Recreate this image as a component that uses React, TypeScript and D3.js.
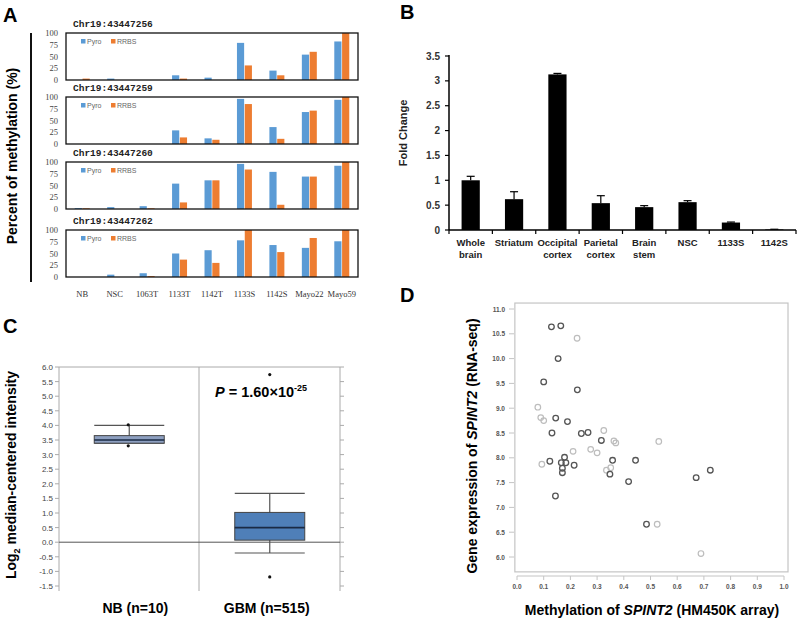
import React from "react";
import * as d3 from "d3";

const W = 800;
const H = 621;
const SANS = "'Liberation Sans', Arial, sans-serif";
const SERIF = "'Liberation Serif', 'Times New Roman', serif";
const MONO = "'Liberation Mono', 'Courier New', monospace";

// ---- panel A: methylation by site ----
const A_CATS = ["NB", "NSC", "1063T", "1133T", "1142T", "1133S", "1142S", "Mayo22", "Mayo59"];
const A_SITES = ["Chr19:43447256", "Chr19:43447259", "Chr19:43447260", "Chr19:43447262"];
const PYRO_256 = [0, 3, 0, 10, 5, 79, 20, 54, 82];
const RRBS_256 = [3, 0, 0, 3, 0, 31, 10, 60, 100];
const PYRO_259 = [0, 0, 0, 29, 12, 96, 36, 68, 94];
const RRBS_259 = [0, 0, 0, 14, 9, 85, 11, 71, 100];
const PYRO_260 = [2, 4, 6, 54, 61, 96, 79, 69, 92];
const RRBS_260 = [1.5, 0, 1.5, 14, 61, 84, 9, 69, 100];
const PYRO_262 = [0, 5, 8, 50, 57, 78, 68, 62, 76];
const RRBS_262 = [0, 0, 2, 37, 30, 100, 53, 83, 100];
const A_PYRO = [PYRO_256, PYRO_259, PYRO_260, PYRO_262];
const A_RRBS = [RRBS_256, RRBS_259, RRBS_260, RRBS_262];
const A_TICKS = [0, 25, 50, 75, 100];
const A_SERIES = ["Pyro", "RRBS"];
const A_COLORS = ["#5b9bd5", "#ed7d31"];

// ---- panel B: fold change ----
const B_CATS = ["Whole brain", "Striatum", "Occipital cortex", "Parietal cortex", "Brain stem", "NSC", "1133S", "1142S"];
const B_VALUES = [1.0, 0.62, 3.13, 0.54, 0.46, 0.56, 0.15, 0.01];
const B_ERR = [0.08, 0.15, 0.02, 0.15, 0.03, 0.03, 0.01, 0.005];
const B_TICKS = [0, 0.5, 1, 1.5, 2, 2.5, 3, 3.5];

// ---- panel C: box plot ----
const C_GROUPS = ["NB (n=10)", "GBM (n=515)"];
const C_Q1 = [3.39, 0.07];
const C_MED = [3.5, 0.5];
const C_Q3 = [3.65, 1.02];
const C_LO = [3.39, -0.37];
const C_HI = [4.0, 1.67];
const C_OUT = [[4.02, 3.3], [5.74, -1.19]];
const C_TICKS = [-1.5, -1, -0.5, 0, 0.5, 1, 1.5, 2, 2.5, 3, 3.5, 4, 4.5, 5, 5.5, 6];

// ---- panel D: scatter ----
const D_DARK_X = [0.129, 0.164, 0.154, 0.1, 0.226, 0.145, 0.189, 0.131, 0.241, 0.266, 0.316, 0.178, 0.123, 0.166, 0.183, 0.17, 0.17, 0.214, 0.358, 0.444, 0.348, 0.418, 0.144, 0.671, 0.724, 0.485];
const D_DARK_Y = [10.64, 10.66, 10.0, 9.53, 9.37, 8.8, 8.73, 8.5, 8.49, 8.51, 8.35, 8.01, 7.93, 7.9, 7.9, 7.79, 7.7, 7.85, 7.95, 7.95, 7.67, 7.52, 7.23, 7.6, 7.75, 6.66];
const D_LIGHT_X = [0.225, 0.078, 0.089, 0.1, 0.325, 0.363, 0.37, 0.531, 0.21, 0.276, 0.3, 0.093, 0.335, 0.351, 0.525, 0.689];
const D_LIGHT_Y = [10.41, 9.02, 8.81, 8.75, 8.55, 8.34, 8.3, 8.33, 8.13, 8.17, 8.1, 7.87, 7.75, 7.8, 6.66, 6.07];
const D_XTICKS = [0, 0.1, 0.2, 0.3, 0.4, 0.5, 0.6, 0.7, 0.8, 0.9, 1.0];
const D_YTICKS = [6, 6.5, 7, 7.5, 8, 8.5, 9, 9.5, 10, 10.5, 11];

const PanelA = () => {
  const x0 = d3.scaleBand().domain(A_CATS).range([66, 358]).paddingInner(0.5).paddingOuter(0.25);
  const x1 = d3.scaleBand().domain(A_SERIES).range([0, x0.bandwidth()]).padding(0.08);
  const tops = [33, 97, 162, 230];
  const h = 47;
  return (
    <g>
      <text x={3} y={22} fontFamily={SANS} fontWeight="bold" fontSize={20}>A</text>
      <line x1={31} x2={31} y1={33} y2={282} stroke="#111" strokeWidth={2} />
      <text transform="translate(17,156) rotate(-90)" textAnchor="middle" fontFamily={SANS} fontWeight="bold" fontSize={14}>
        Percent of methylation (%)
      </text>
      {A_SITES.map((site, i) => {
        const y = d3.scaleLinear().domain([0, 100]).range([tops[i] + h, tops[i]]);
        const rows = [A_PYRO[i], A_RRBS[i]];
        return (
          <g key={site}>
            <text x={73} y={tops[i] - 6} fontFamily={MONO} fontWeight="bold" fontSize={9.5} fill="#222">{site}</text>
            {A_TICKS.map((t) => (
              <text key={t} x={58} y={y(t) + 3} textAnchor="end" fontFamily={SERIF} fontSize={8.5} fill="#444">{t}</text>
            ))}
            {A_CATS.map((c, j) =>
              rows.map((vals, k) => (
                <rect key={c + k} x={(x0(c) as number) + (x1(A_SERIES[k]) as number)} width={x1.bandwidth()}
                  y={y(vals[j])} height={y(0) - y(vals[j])} fill={A_COLORS[k]} />
              ))
            )}
            <rect x={66} y={tops[i]} width={292} height={h} fill="none" stroke="#111" strokeWidth={1.3} />
            {A_SERIES.map((s, k) => (
              <g key={s}>
                <rect x={81 + k * 30} y={tops[i] + 6} width={4.5} height={4.5} fill={A_COLORS[k]} />
                <text x={87 + k * 30} y={tops[i] + 11} fontFamily={SANS} fontSize={7} fill="#666">{s}</text>
              </g>
            ))}
          </g>
        );
      })}
      {A_CATS.map((c) => (
        <text key={c} x={(x0(c) as number) + x0.bandwidth() / 2} y={297} textAnchor="middle" fontFamily={SERIF} fontSize={8.5} fill="#333">{c}</text>
      ))}
    </g>
  );
};

const PanelB = () => {
  const x = d3.scaleBand().domain(B_CATS).range([449, 796]).paddingInner(0.58).paddingOuter(0.29);
  const y = d3.scaleLinear().domain([0, 3.5]).range([230, 56]);
  const step = x.step();
  return (
    <g>
      <text x={400} y={19} fontFamily={SANS} fontWeight="bold" fontSize={20}>B</text>
      <text transform="translate(407,133) rotate(-90)" textAnchor="middle" fontFamily={SANS} fontWeight="bold" fontSize={11} fill="#222">Fold Change</text>
      {B_CATS.map((c, i) => {
        const cx = (x(c) as number) + x.bandwidth() / 2;
        return (
          <g key={c}>
            <rect x={x(c)} width={x.bandwidth()} y={y(B_VALUES[i])} height={y(0) - y(B_VALUES[i])} fill="#000" />
            <line x1={cx} x2={cx} y1={y(B_VALUES[i])} y2={y(B_VALUES[i] + B_ERR[i])} stroke="#000" strokeWidth={1.2} />
            <line x1={cx - 4} x2={cx + 4} y1={y(B_VALUES[i] + B_ERR[i])} y2={y(B_VALUES[i] + B_ERR[i])} stroke="#000" strokeWidth={1.2} />
            <text textAnchor="middle" fontFamily={SANS} fontWeight="bold" fontSize={9.5} fill="#222">
              {c.split(" ").map((w, k) => (
                <tspan key={k} x={cx} y={246 + k * 12}>{w}</tspan>
              ))}
            </text>
          </g>
        );
      })}
      {d3.range(B_CATS.length + 1).map((k) => (
        <line key={k} x1={449 + k * step} x2={449 + k * step} y1={230} y2={234} stroke="#000" strokeWidth={1.2} />
      ))}
      {B_TICKS.map((t) => (
        <g key={t}>
          <line x1={445} x2={449} y1={y(t)} y2={y(t)} stroke="#000" strokeWidth={1.2} />
          <text x={440} y={y(t) + 3.5} textAnchor="end" fontFamily={SANS} fontWeight="bold" fontSize={10} fill="#333">{t}</text>
        </g>
      ))}
      <line x1={449} x2={449} y1={55} y2={230} stroke="#000" strokeWidth={1.5} />
      <line x1={449} x2={796} y1={230} y2={230} stroke="#000" strokeWidth={1.5} />
    </g>
  );
};

const PanelC = () => {
  const x = d3.scaleBand().domain(C_GROUPS).range([59, 340]);
  const y = d3.scaleLinear().domain([-1.5, 6]).range([586, 367]);
  const bw = 70;
  return (
    <g>
      <text x={3} y={333} fontFamily={SANS} fontWeight="bold" fontSize={20}>C</text>
      <text transform="translate(16,475) rotate(-90)" textAnchor="middle" fontFamily={SANS} fontWeight="bold" fontSize={14}>
        Log<tspan fontSize={9} dy={4}>2</tspan><tspan dy={-4}> median-centered intensity</tspan>
      </text>
      <line x1={59} x2={340} y1={y(6)} y2={y(6)} stroke="#aaa" />
      <line x1={59} x2={59} y1={y(6)} y2={591} stroke="#aaa" />
      <line x1={199} x2={199} y1={y(6)} y2={591} stroke="#aaa" />
      <line x1={340} x2={340} y1={y(6)} y2={591} stroke="#aaa" />
      {C_TICKS.map((t) => (
        <g key={t}>
          <line x1={55} x2={59} y1={y(t)} y2={y(t)} stroke="#aaa" />
          <line x1={340} x2={344} y1={y(t)} y2={y(t)} stroke="#aaa" />
          <text x={53} y={y(t) + 3} textAnchor="end" fontFamily={SANS} fontSize={8} fill="#444">{t.toFixed(1)}</text>
        </g>
      ))}
      <line x1={59} x2={340} y1={y(0)} y2={y(0)} stroke="#555" />
      {C_GROUPS.map((g, i) => {
        const cx = (x(g) as number) + x.bandwidth() / 2;
        const fill = i === 0 ? "#8d9fc0" : "#4f7fb8";
        return (
          <g key={g}>
            <line x1={cx} x2={cx} y1={y(C_HI[i])} y2={y(C_LO[i])} stroke="#555" strokeWidth={1.2} />
            <line x1={cx - bw / 2} x2={cx + bw / 2} y1={y(C_HI[i])} y2={y(C_HI[i])} stroke="#555" strokeWidth={1.2} />
            <line x1={cx - bw / 2} x2={cx + bw / 2} y1={y(C_LO[i])} y2={y(C_LO[i])} stroke="#555" strokeWidth={1.2} />
            <rect x={cx - bw / 2} width={bw} y={y(C_Q3[i])} height={y(C_Q1[i]) - y(C_Q3[i])} fill={fill} stroke="#444" strokeWidth={1} />
            <line x1={cx - bw / 2} x2={cx + bw / 2} y1={y(C_MED[i])} y2={y(C_MED[i])} stroke="#1a2a44" strokeWidth={1.6} />
            {C_OUT[i].map((v, k) => (
              <circle key={k} cx={cx - (i === 0 ? 1 : 0)} cy={y(v)} r={1.6} fill="#111" />
            ))}
            <text x={cx + (i === 0 ? 6 : -3)} y={613} textAnchor="middle" fontFamily={SANS} fontWeight="bold" fontSize={14}>{g}</text>
          </g>
        );
      })}
      <text x={215} y={397} fontFamily={SANS} fontWeight="bold" fontSize={14.5}>
        <tspan fontStyle="italic">P</tspan> = 1.60×10<tspan fontSize={9} dy={-6}>-25</tspan>
      </text>
    </g>
  );
};

const PanelD = () => {
  const x = d3.scaleLinear().domain([0, 1]).range([517, 784]);
  const y = d3.scaleLinear().domain([6, 11]).range([557, 309]);
  return (
    <g>
      <text x={400} y={302} fontFamily={SANS} fontWeight="bold" fontSize={20}>D</text>
      <rect x={x(-0.008)} y={y(11.12)} width={x(1.015) - x(-0.008)} height={y(5.7) - y(11.12)} fill="none" stroke="#c4c4c4" strokeWidth={1.2} />
      <line x1={x(0)} x2={x(1)} y1={576} y2={576} stroke="#c4c4c4" />
      {D_XTICKS.map((t) => (
        <g key={t}>
          <line x1={x(t)} x2={x(t)} y1={576} y2={580} stroke="#c4c4c4" />
          <text x={x(t)} y={589} textAnchor="middle" fontFamily={SANS} fontWeight="bold" fontSize={6.5} fill="#555">{t.toFixed(1)}</text>
        </g>
      ))}
      {D_YTICKS.map((t) => (
        <g key={t}>
          <line x1={509} x2={514} y1={y(t)} y2={y(t)} stroke="#c4c4c4" />
          <text x={505} y={y(t) + 2.5} textAnchor="end" fontFamily={SANS} fontWeight="bold" fontSize={6.5} fill="#555">{t.toFixed(1)}</text>
        </g>
      ))}
      {D_LIGHT_X.map((v, i) => (
        <circle key={"l" + i} cx={x(v)} cy={y(D_LIGHT_Y[i])} r={2.8} fill="none" stroke="#bdbdbd" strokeWidth={1.2} />
      ))}
      {D_DARK_X.map((v, i) => (
        <circle key={"d" + i} cx={x(v)} cy={y(D_DARK_Y[i])} r={2.8} fill="none" stroke="#555" strokeWidth={1.3} />
      ))}
      <text transform="translate(477,446) rotate(-90)" textAnchor="middle" fontFamily={SANS} fontWeight="bold" fontSize={14}>
        Gene expression of <tspan fontStyle="italic">SPINT2</tspan> (RNA-seq)
      </text>
      <text x={652} y={615} textAnchor="middle" fontFamily={SANS} fontWeight="bold" fontSize={14}>
        Methylation of <tspan fontStyle="italic">SPINT2</tspan> (HM450K array)
      </text>
    </g>
  );
};

export default function App() {
  return (
    <svg width={W} height={H} viewBox={`0 0 ${W} ${H}`} style={{ position: "absolute", left: 0, top: 0, background: "#fff" }}>
      <rect width={W} height={H} fill="#fff" />
      <PanelA />
      <PanelB />
      <PanelC />
      <PanelD />
    </svg>
  );
}
